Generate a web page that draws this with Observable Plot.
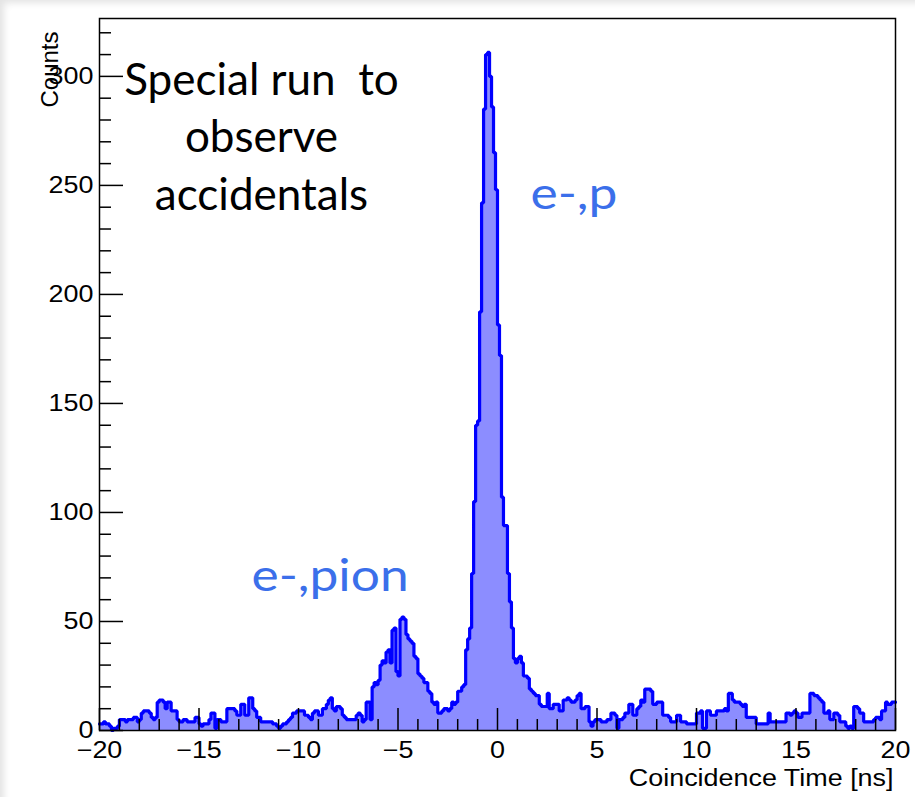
<!DOCTYPE html>
<html>
<head>
<meta charset="utf-8">
<script src="https://cdn.jsdelivr.net/npm/d3@7"></script>
<script src="https://cdn.jsdelivr.net/npm/@observablehq/plot@0.6"></script>
<style>
  html, body { margin: 0; padding: 0; background: #ffffff; }
  #chart {
    position: relative;
    width: 915px;
    height: 797px;
    overflow: hidden;
    background: #ffffff;
  }
  #chart::after {
    content: "";
    position: absolute;
    inset: 0;
    pointer-events: none;
    box-shadow: inset 8px 7px 7px -4px rgba(0, 0, 0, 0.11);
  }
  #chart svg { display: block; }
</style>
</head>
<body>
<div id="chart"></div>
<script>
// Coincidence-time histogram, 0.1 ns bins from -20 ns to +20 ns.
const binStart = -20;
const binWidth = 0.1;

// counts per bin, -20 .. -10 ns
const countsA = [
  3, 3, 4, 3, 3, 2, 0, 1, 1, 2,
  5, 5, 5, 4, 5, 5, 5, 6, 6, 4,
  5, 8, 9, 9, 9, 8, 6, 5, 6, 13,
  14, 14, 13, 10, 13, 13, 9, 9, 9, 5,
  4, 4, 5, 5, 4, 4, 4, 4, 6, 6,
  3, 2, 3, 3, 3, 5, 8, 8, 1, 5,
  5, 4, 4, 4, 10, 10, 10, 10, 9, 7,
  7, 12, 12, 7, 7, 15, 15, 10, 9, 6,
  6, 4, 4, 4, 4, 4, 4, 3, 3, 2,
  1, 2, 3, 3, 4, 5, 6, 8, 8, 9
];
// counts per bin, -10 .. 0 ns (e-,pion bump and rising edge of the e-,p peak)
const countsB = [
  9, 9, 9, 7, 7, 6, 5, 8, 9, 9,
  7, 7, 10, 10, 12, 14, 15, 10, 9, 11,
  11, 10, 7, 6, 5, 5, 5, 5, 5, 7,
  8, 7, 4, 5, 13, 13, 5, 20, 22, 21,
  23, 30, 32, 31, 36, 37, 31, 46, 47, 27,
  25, 51, 52, 51, 44, 42, 41, 40, 34, 33,
  26, 25, 24, 22, 22, 18, 17, 13, 12, 13,
  8, 8, 9, 10, 10, 9, 10, 13, 12, 13,
  18, 18, 20, 21, 37, 42, 47, 72, 105, 140,
  142, 192, 242, 285, 310, 311, 300, 286, 265, 248
];
// counts per bin, 0 .. 10 ns
const countsC = [
  186, 172, 107, 94, 94, 72, 59, 47, 33, 31,
  33, 34, 31, 25, 25, 24, 19, 18, 17, 16,
  16, 12, 11, 11, 11, 17, 10, 10, 12, 12,
  12, 9, 9, 14, 14, 15, 14, 13, 13, 14,
  16, 17, 10, 10, 11, 11, 4, 2, 4, 5,
  5, 5, 4, 4, 4, 5, 5, 8, 8, 7,
  1, 5, 5, 6, 8, 8, 12, 12, 7, 7,
  10, 11, 14, 13, 19, 19, 19, 18, 12, 12,
  13, 13, 13, 7, 7, 7, 6, 4, 4, 4,
  7, 7, 4, 4, 4, 3, 3, 3, 3, 3
];
// counts per bin, 10 .. 20 ns
const countsD = [
  8, 8, 9, 1, 1, 9, 9, 7, 7, 7,
  9, 9, 9, 9, 10, 9, 17, 17, 14, 13,
  13, 13, 12, 11, 12, 6, 6, 6, 6, 6,
  3, 3, 3, 3, 3, 3, 8, 4, 4, 4,
  4, 4, 4, 4, 4, 8, 8, 7, 8, 9,
  8, 6, 6, 8, 8, 8, 8, 17, 17, 16,
  16, 15, 14, 13, 8, 8, 9, 5, 5, 8,
  8, 7, 4, 4, 4, 2, 1, 2, 1, 11,
  11, 10, 8, 8, 4, 4, 4, 4, 4, 5,
  6, 6, 5, 9, 9, 13, 12, 12, 13, 13
];

// axis ticks
const xMajorTicks = [-20, -15, -10, -5, 0, 5, 10, 15, 20];
const xMinorTicks = [-19, -18, -17, -16, -14, -13, -12, -11, -9, -8, -7, -6, -4, -3, -2, -1,
                     1, 2, 3, 4, 6, 7, 8, 9, 11, 12, 13, 14, 16, 17, 18, 19];
const yMajorTicks = [0, 50, 100, 150, 200, 250, 300];
const yMinorTicks = [10, 20, 30, 40, 60, 70, 80, 90, 110, 120, 130, 140, 160, 170, 180, 190,
                     210, 220, 230, 240, 260, 270, 280, 290, 310, 320];

// texts
const xTitle = "Coincidence Time [ns]";
const yTitle = "Counts";
const runNote = ["Special run\u00a0 to", "observe", "accidentals"];
const peakNames = ["e-,p", "e-,pion"];

// ---------------------------------------------------------------------------
const counts = [...countsA, ...countsB, ...countsC, ...countsD];
const bins = counts.map((n, i) => ({t: binStart + i * binWidth, n}));
// closing point at the upper edge of the last bin so the last step is drawn
const steps = [...bins, {t: binStart + counts.length * binWidth, n: counts[counts.length - 1]}];

const histLine = "#0000ff";
const histFill = "#8c8dff";
const noteBlue = "#3b6fea";
const rootFont = "'Liberation Sans', Arial, Helvetica, sans-serif";
const slideFont = "Lato, 'Open Sans', sans-serif";
const glyphStretch = 1.17; // horizontal widening of the axis and label lettering

const chart = Plot.plot({
  width: 915,
  height: 797,
  marginLeft: 99,
  marginRight: 20,
  marginTop: 18,
  marginBottom: 67,
  style: {fontFamily: rootFont, fontSize: "23px", color: "#000", background: "transparent"},
  x: {domain: [binStart, binStart + counts.length * binWidth]},
  y: {domain: [0, d3.max(counts) * 1.05]},
  marks: [
    Plot.areaY(steps, {x: "t", y: "n", curve: "step-after", fill: histFill}),
    Plot.lineY(steps, {x: "t", y: "n", curve: "step-after", stroke: histLine, strokeWidth: 3.2, strokeLinejoin: "miter"}),
    Plot.frame({stroke: "#000", strokeWidth: 1.5}),

    // ticks point into the frame
    Plot.axisX({ticks: xMajorTicks, tickSize: -22, fill: "none", strokeWidth: 1.5, label: null}),
    Plot.axisX({ticks: xMinorTicks, tickSize: -11, fill: "none", strokeWidth: 1.5, label: null}),
    Plot.axisX({ticks: xMajorTicks, tickSize: 0, tickPadding: 11, fontSize: 23, label: null}),
    Plot.axisY({ticks: yMajorTicks, tickSize: -24, fill: "none", strokeWidth: 1.5, label: null}),
    Plot.axisY({ticks: yMinorTicks, tickSize: -12, fill: "none", strokeWidth: 1.5, label: null}),
    Plot.axisY({ticks: yMajorTicks, tickSize: 0, tickPadding: 6, fontSize: 23, label: null}),

    // axis titles, right / top aligned
    Plot.text([xTitle], {frameAnchor: "bottom-right", textAnchor: "end", lineAnchor: "bottom",
      dx: -2, dy: 55, fontSize: 23, fill: "#000"}),
    Plot.text([yTitle], {frameAnchor: "top-left", textAnchor: "end", lineAnchor: "bottom",
      rotate: -90, dx: -42, dy: 13, fontSize: 24, fill: "#000"}),

    // annotations
    Plot.text([runNote.join("\n")], {x: -11.86, y: 310, textAnchor: "middle", lineAnchor: "top",
      fontSize: 44, lineHeight: 1.3, fontFamily: slideFont, fill: "#000", className: "run-note"}),
    Plot.text([peakNames[0]], {x: 1.66, y: 239, textAnchor: "start", lineAnchor: "bottom",
      fontSize: 44, fontFamily: slideFont, fill: noteBlue}),
    Plot.text([peakNames[1]], {x: -12.36, y: 64, textAnchor: "start", lineAnchor: "bottom",
      fontSize: 44, fontFamily: slideFont, fill: noteBlue})
  ]
});

document.getElementById("chart").appendChild(chart);

// widen the single-line, unrotated lettering
chart.querySelectorAll("text").forEach((el) => {
  if ((el.getAttribute("transform") || "").includes("rotate")) return;
  if (el.closest(".run-note")) return;
  if (el.querySelector("tspan")) return;
  const len = el.getComputedTextLength();
  if (len > 0) {
    el.setAttribute("textLength", (len * glyphStretch).toFixed(1));
    el.setAttribute("lengthAdjust", "spacingAndGlyphs");
  }
});
</script>
</body>
</html>
